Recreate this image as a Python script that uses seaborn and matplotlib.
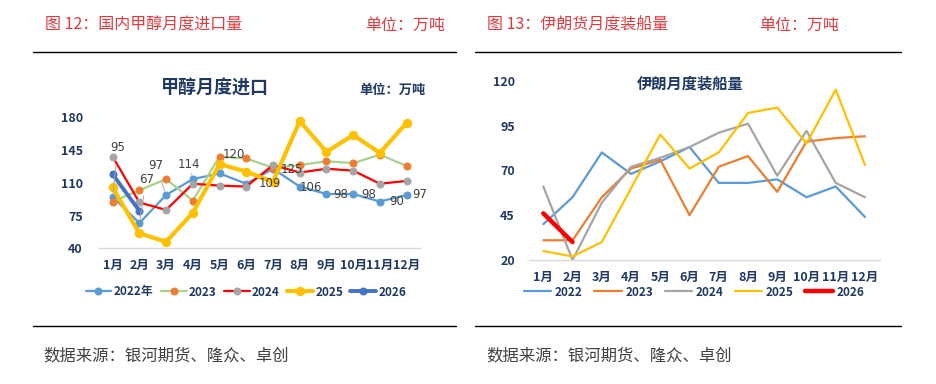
"""
Methanol import / Iran loading charts, two panels side by side.
"""

import numpy as np
import pandas as pd
import matplotlib.pyplot as plt
from matplotlib.lines import Line2D
import seaborn as sns


sns.set_style('white')
plt.rcParams['font.family'] = ['Noto Sans CJK SC', 'DejaVu Sans']

months = ['1月', '2月', '3月', '4月', '5月', '6月', '7月', '8月', '9月', '10月', '11月', '12月']

# 甲醇月度进口 (万吨)
import_2022 = [95, 67, 97, 114, 120, 109, 125, 106, 98, 98, 90, 97]
import_2023 = [90, 102, 114, 91, 138, 136, 126, 129, 133, 131, 140, 128]
import_2024 = [138, 89, 81, 109, 107, 106, 129, 121, 125, 123, 109, 112]
import_2025 = [105, 56, 47, 78, 130, 122, 111, 176, 143, 161, 142, 174]
import_2026 = [119, 80]

# 伊朗月度装船量 (万吨)
iran_2022 = [40, 55, 80, 68, 75, 83, 63, 63, 65, 55, 61, 44]
iran_2023 = [31, 31, 55, 71, 76, 45, 72, 78, 58, 86, 88, 89]
iran_2024 = [61, 20, 52, 72, 77, 83, 91, 96, 67, 92, 63, 55]
iran_2025 = [25, 22, 30, 60, 90, 71, 80, 102, 105, 85, 115, 73]
iran_2026 = [46, 30]

NAVY = '#1F3864'
RED_TXT = '#E0393E'

# label offsets (pixels) for the 2022 data labels, as placed in the original
label_dx = [5, 7, -10, -4, 14, 24, 19, 11, 14, 16, 17, 13]
label_dy = [49, 44, 29, 15, 19, 0, -1, -1, 0, 0, 0, 0]
leader = [True, True, True, True, True] + [False] * 7


def draw_series(ax, values, label, color, lw, mfc=None, ms=0):
    df = pd.DataFrame({'m': np.arange(len(values)), 'v': values})
    kw = {}
    if mfc is not None:
        kw = dict(marker='o', markersize=ms, markerfacecolor=mfc, markeredgecolor=mfc)
    sns.lineplot(data=df, x='m', y='v', ax=ax, color=color, linewidth=lw,
                 label=label, clip_on=False, **kw)


def style_axis(ax, yticks):
    ax.set_xlim(-0.5, 11.5)
    ax.set_ylim(yticks[0], yticks[-1])
    ax.set_yticks(yticks)
    ax.set_xticks(range(12))
    ax.set_xticklabels(months)
    ax.set_xlabel('')
    ax.set_ylabel('')
    for s in ['top', 'right', 'left']:
        ax.spines[s].set_visible(False)
    ax.spines['bottom'].set_color('#D9D9D9')
    ax.spines['bottom'].set_linewidth(1.0)
    ax.tick_params(length=0, labelsize=9, labelcolor=NAVY)
    for t in ax.get_xticklabels() + ax.get_yticklabels():
        t.set_fontweight('bold')


fig = plt.figure(figsize=(9.36, 3.84), dpi=100)

# ---- left panel ----
ax1 = fig.add_axes([99.3 / 936, 1 - 248.3 / 384, 320.7 / 936, 131 / 384])
draw_series(ax1, import_2022, '2022年', '#5B9BD5', 1.6, '#5B9BD5', 5)
draw_series(ax1, import_2023, '2023', '#A9D18E', 1.6, '#ED7D31', 5)
draw_series(ax1, import_2024, '2024', '#FF0000', 1.6, '#A5A5A5', 5)
draw_series(ax1, import_2025, '2025', '#FFC000', 3.0, '#FFC000', 6)
draw_series(ax1, import_2026, '2026', '#4472C4', 2.8, '#4472C4', 5)
style_axis(ax1, [40, 75, 110, 145, 180])
ax1.tick_params(axis='y', pad=12)
ax1.tick_params(axis='x', pad=8)

for i, v in enumerate(import_2022):
    arrow = dict(arrowstyle='-', color='#A6A6A6', lw=0.7, shrinkA=5, shrinkB=3) if leader[i] else None
    ax1.annotate(str(v), xy=(i, v), xytext=(label_dx[i], label_dy[i]),
                 textcoords='offset pixels', ha='center', va='center',
                 fontsize=8.5, color='#404040', family='DejaVu Sans',
                 arrowprops=arrow, zorder=6)

fig.text(215 / 936, 1 - 88 / 384, '甲醇月度进口', ha='center', va='center',
         fontsize=13, fontweight='bold', color=NAVY)
fig.text(392 / 936, 1 - 90 / 384, '单位：万吨', ha='center', va='center',
         fontsize=9.5, fontweight='bold', color=NAVY)

h, l = ax1.get_legend_handles_labels()
ax1.legend(h, l, loc='center', bbox_to_anchor=(246 / 936, 1 - 292 / 384),
           bbox_transform=fig.transFigure, ncol=5, frameon=False,
           handlelength=2.2, handletextpad=0.2, columnspacing=0.6,
           prop={'size': 8.5, 'weight': 'bold'}, labelcolor=NAVY)

# ---- right panel ----
ax2 = fig.add_axes([528.7 / 936, 1 - 260 / 384, 350.9 / 936, 179.3 / 384])
draw_series(ax2, iran_2022, '2022', '#5B9BD5', 1.6)
draw_series(ax2, iran_2023, '2023', '#ED7D31', 1.6)
draw_series(ax2, iran_2024, '2024', '#A5A5A5', 1.6)
draw_series(ax2, iran_2025, '2025', '#FFC000', 1.6)
draw_series(ax2, iran_2026, '2026', '#FF0000', 3.2)
style_axis(ax2, [20, 45, 70, 95, 120])
ax2.tick_params(axis='y', pad=10)
ax2.tick_params(axis='x', pad=8)

fig.text(690 / 936, 1 - 84 / 384, '伊朗月度装船量', ha='center', va='center',
         fontsize=11, fontweight='bold', color=NAVY)

h, l = ax2.get_legend_handles_labels()
ax2.legend(h, l, loc='center', bbox_to_anchor=(694 / 936, 1 - 292 / 384),
           bbox_transform=fig.transFigure, ncol=5, frameon=False,
           handlelength=2.3, handletextpad=0.3, columnspacing=1.0,
           prop={'size': 8.5, 'weight': 'bold'}, labelcolor=NAVY)

# ---- headers / footers ----
fig.text(45 / 936, 1 - 25 / 384, '图 12：国内甲醇月度进口量', ha='left', va='center',
         fontsize=11.5, color=RED_TXT)
fig.text(365 / 936, 1 - 25 / 384, '单位：万吨', ha='left', va='center',
         fontsize=11.5, color=RED_TXT)
fig.text(487 / 936, 1 - 25 / 384, '图 13：伊朗货月度装船量', ha='left', va='center',
         fontsize=11.5, color=RED_TXT)
fig.text(759 / 936, 1 - 25 / 384, '单位：万吨', ha='left', va='center',
         fontsize=11.5, color=RED_TXT)

for x0, x1 in [(33, 456), (475, 901)]:
    for yy in [51.5, 325.5]:
        fig.add_artist(Line2D([x0 / 936, x1 / 936], [1 - yy / 384, 1 - yy / 384],
                              color='black', lw=1.0))

fig.text(43 / 936, 1 - 356 / 384, '数据来源：银河期货、隆众、卓创', ha='left', va='center',
         fontsize=11.8, color='#404040')
fig.text(486 / 936, 1 - 356 / 384, '数据来源：银河期货、隆众、卓创', ha='left', va='center',
         fontsize=11.8, color='#404040')

plt.savefig('out.png', dpi=100)
plt.close()
